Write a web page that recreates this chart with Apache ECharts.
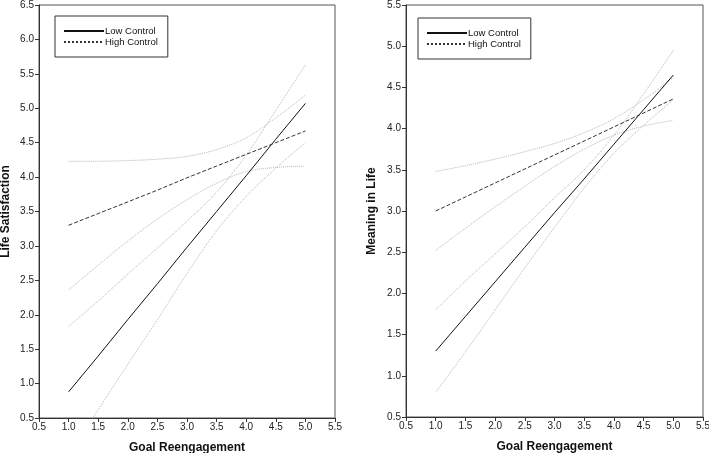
<!DOCTYPE html>
<html>
<head>
<meta charset="utf-8">
<script src="https://cdn.jsdelivr.net/npm/echarts@6/dist/echarts.min.js"></script>
<style>
  html, body { margin: 0; padding: 0; background: #fff; }
  #chart { width: 709px; height: 453px; }
</style>
</head>
<body>
<div id="chart"></div>
<script>
// Goal Reengagement values at which lines are read
const xVals = [1, 1.5, 2, 2.5, 3, 3.5, 4, 4.5, 5];

// Left panel: Life Satisfaction
const lsLow        = [0.88, 1.40, 1.93, 2.45, 2.98, 3.50, 4.02, 4.55, 5.07];
const lsHigh       = [3.30, 3.47, 3.64, 3.81, 3.99, 4.16, 4.33, 4.50, 4.67];
const lsLowUpper   = [1.83, 2.20, 2.59, 2.97, 3.36, 3.78, 4.32, 4.97, 5.63];
const lsLowLower   = [-0.05, 0.62, 1.28, 1.93, 2.60, 3.22, 3.72, 4.13, 4.50];
const lsHighUpper  = [4.23, 4.23, 4.24, 4.26, 4.30, 4.40, 4.57, 4.86, 5.19];
const lsHighLower  = [2.36, 2.72, 3.07, 3.39, 3.67, 3.91, 4.08, 4.14, 4.16];

// Right panel: Meaning in Life
const mlLow        = [1.30, 1.72, 2.14, 2.56, 2.98, 3.39, 3.81, 4.23, 4.65];
const mlHigh       = [3.00, 3.17, 3.34, 3.51, 3.68, 3.85, 4.02, 4.19, 4.36];
const mlLowUpper   = [1.80, 2.15, 2.48, 2.81, 3.16, 3.50, 3.92, 4.42, 4.95];
const mlLowLower   = [0.80, 1.29, 1.80, 2.31, 2.80, 3.28, 3.70, 4.04, 4.35];
const mlHighUpper  = [3.48, 3.55, 3.63, 3.72, 3.82, 3.95, 4.12, 4.35, 4.62];
const mlHighLower  = [2.52, 2.79, 3.05, 3.30, 3.54, 3.75, 3.92, 4.03, 4.10];

const leftYTitle = 'Life Satisfaction';
const rightYTitle = 'Meaning in Life';
const xTitle = 'Goal Reengagement';
const seriesNames = ['Low Control', 'High Control'];

const FONT = "'Liberation Sans', Arial, sans-serif";
const pairs = (ys) => xVals.map((x, i) => [x, ys[i]]);

function xAxisCfg(gridIndex) {
  return {
    type: 'value', gridIndex, min: 0.5, max: 5.5, interval: 0.5,
    name: xTitle, nameLocation: 'middle', nameGap: 24,
    nameTextStyle: { fontFamily: FONT, fontWeight: 'bold', fontSize: 12, color: '#111' },
    axisLine: { lineStyle: { color: '#333', width: 1 } },
    axisTick: { show: true, length: 4, lineStyle: { color: '#333' } },
    axisLabel: { fontFamily: FONT, fontSize: 10, color: '#222', margin: 4,
      formatter: v => v.toFixed(1) },
    splitLine: { show: false }
  };
}
function yAxisCfg(gridIndex, max, title, gap) {
  return {
    type: 'value', gridIndex, min: 0.5, max, interval: 0.5,
    name: title, nameLocation: 'middle', nameGap: gap,
    nameTextStyle: { fontFamily: FONT, fontWeight: 'bold', fontSize: 12, color: '#111' },
    axisLine: { lineStyle: { color: '#333', width: 1 } },
    axisTick: { show: true, length: 4, lineStyle: { color: '#333' } },
    axisLabel: { fontFamily: FONT, fontSize: 10, color: '#222', margin: 5,
      formatter: v => v.toFixed(1) },
    splitLine: { show: false }
  };
}

function mainLine(name, data, idx, dashed) {
  return {
    type: 'line', name, xAxisIndex: idx, yAxisIndex: idx,
    data: pairs(data), symbol: 'none', z: 5,
    lineStyle: { color: dashed ? '#333' : '#111', width: 1, type: dashed ? [4, 2] : 'solid' },
    itemStyle: { color: dashed ? '#333' : '#111' },
    animation: false
  };
}
function ciLine(data, idx) {
  return {
    type: 'line', name: 'ci', xAxisIndex: idx, yAxisIndex: idx,
    data: pairs(data), symbol: 'none', smooth: 0.35, z: 2, clip: true,
    lineStyle: { color: '#b8b8b8', width: 1, type: [1, 1] },
    silent: true, animation: false
  };
}

function legendCfg(left, top) {
  return {
    left, top, orient: 'vertical', selectedMode: false,
    itemWidth: 40, itemHeight: 10, itemGap: 1,
    padding: [10, 10, 10, 8],
    backgroundColor: '#fff', borderColor: '#333', borderWidth: 1, borderRadius: 0,
    itemStyle: { opacity: 0 },
    textStyle: { fontFamily: FONT, fontSize: 9.5, color: '#111', padding: [0, 0, 0, -4] },
    data: [
      { name: seriesNames[0], itemStyle: { opacity: 0 } },
      { name: seriesNames[1], itemStyle: { opacity: 0 }, lineStyle: { type: [2, 2] } }
    ]
  };
}

const gridBase = { show: true, borderColor: '#555', borderWidth: 1, backgroundColor: 'transparent',
  containLabel: false, outerBoundsMode: 'none' };

const chart = echarts.init(document.getElementById('chart'), null, { renderer: 'canvas' });
chart.setOption({
  animation: false,
  backgroundColor: '#fff',
  grid: [
    Object.assign({ left: 39, top: 5, width: 296, height: 413 }, gridBase),
    Object.assign({ left: 406, top: 5, width: 297, height: 412 }, gridBase)
  ],
  xAxis: [xAxisCfg(0), xAxisCfg(1)],
  yAxis: [yAxisCfg(0, 6.5, leftYTitle, 27), yAxisCfg(1, 5.5, rightYTitle, 28)],
  legend: [legendCfg(55, 16), legendCfg(418, 18)],
  series: [
    ciLine(lsLowUpper, 0), ciLine(lsLowLower, 0), ciLine(lsHighUpper, 0), ciLine(lsHighLower, 0),
    mainLine(seriesNames[0], lsLow, 0, false), mainLine(seriesNames[1], lsHigh, 0, true),
    ciLine(mlLowUpper, 1), ciLine(mlLowLower, 1), ciLine(mlHighUpper, 1), ciLine(mlHighLower, 1),
    mainLine(seriesNames[0], mlLow, 1, false), mainLine(seriesNames[1], mlHigh, 1, true)
  ]
});
</script>
</body>
</html>
